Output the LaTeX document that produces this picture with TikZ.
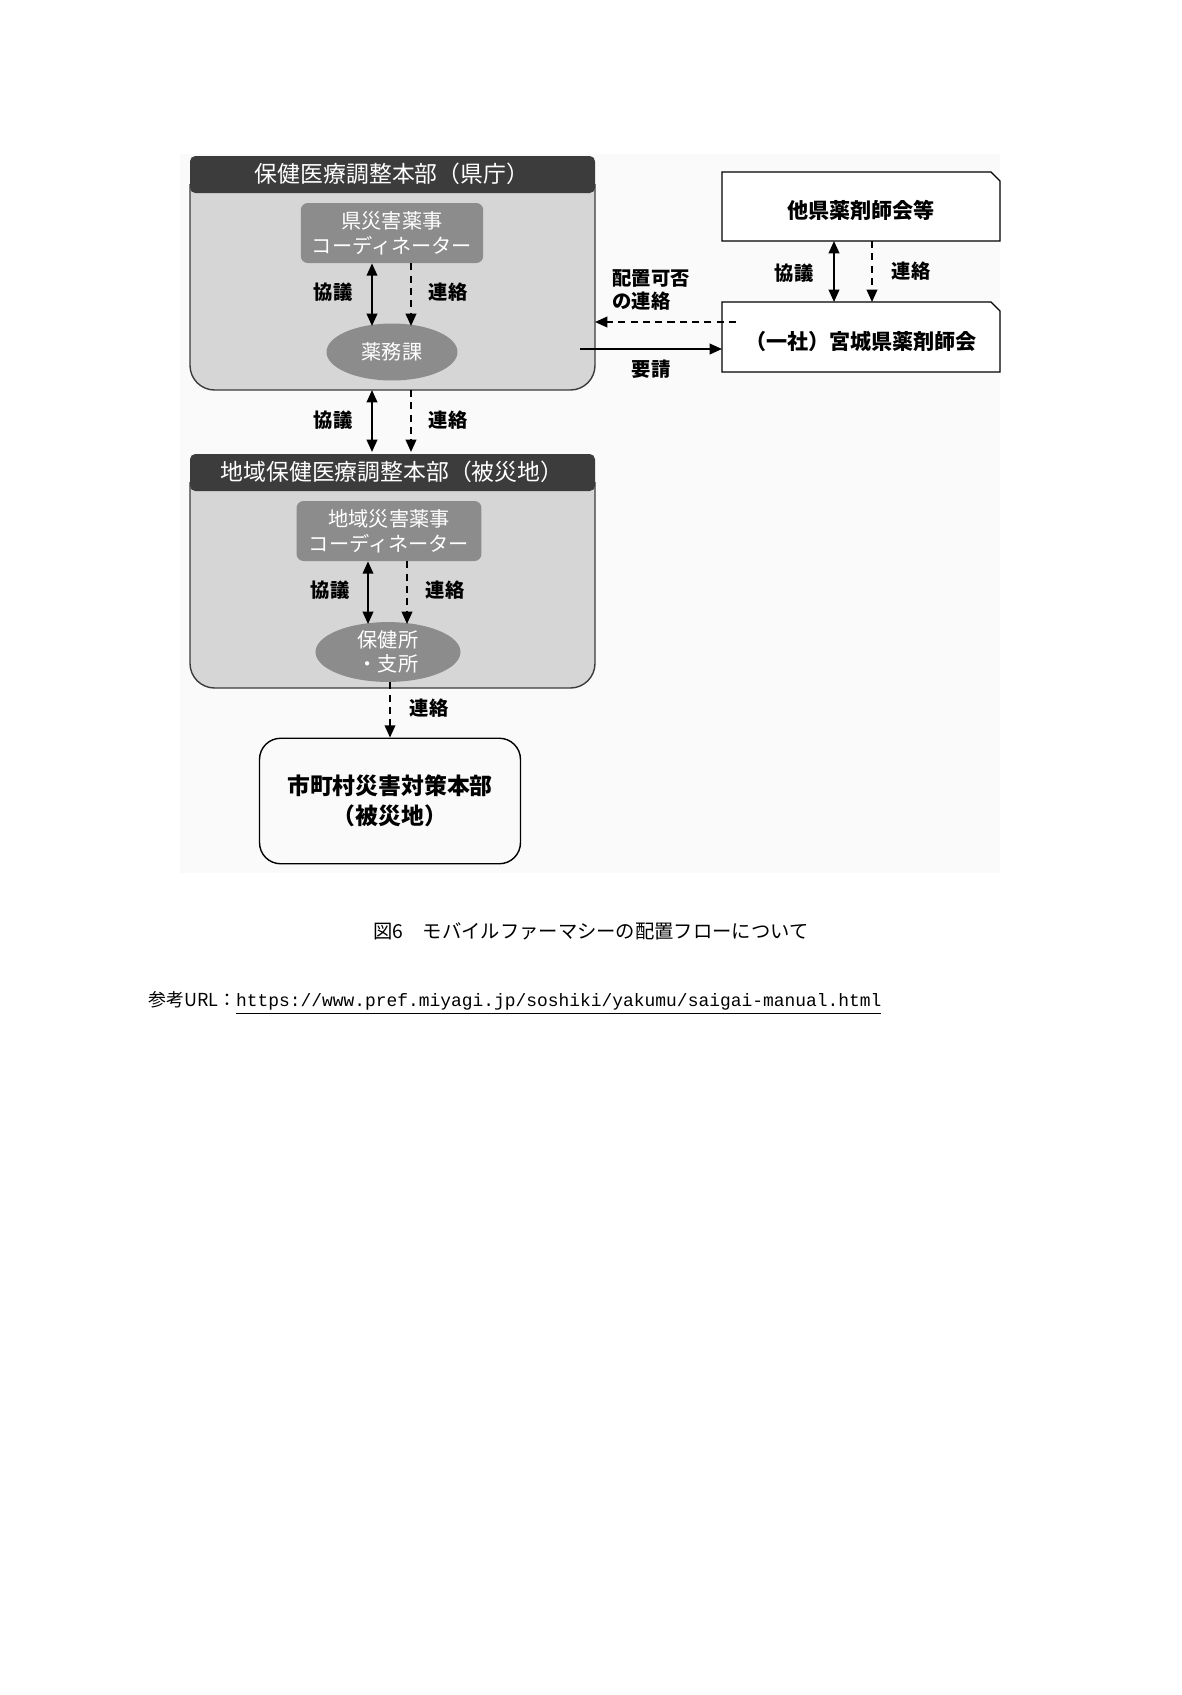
\documentclass[tikz,border=0pt]{standalone}
\usepackage{fontspec}
\usetikzlibrary{arrows.meta,shapes.geometric}
\newfontfamily\jp{Noto Sans CJK JP}
\newcommand\jpb{\jp\bfseries}
\setmonofont{Liberation Mono}
\tikzset{>={Triangle[length=7pt,width=6pt]}}
\definecolor{panelgray}{HTML}{D6D6D6}
\definecolor{headgray}{HTML}{3C3C3C}
\definecolor{boxgray}{HTML}{8C8C8C}
\tikzset{
  lbl/.style={font=\jpb\fontsize{11}{13}\selectfont},
  coordbox/.style={fill=boxgray,rounded corners=4pt,text=white,align=center,
    minimum width=3.65cm,minimum height=1.2cm,font=\jp\fontsize{11.5}{14}\selectfont},
  office/.style={ellipse,fill=boxgray,text=white,align=center,inner sep=0pt,font=\jp\fontsize{11.5}{13.5}\selectfont},
  flow/.style={->,line width=1.1pt},
  dflow/.style={->,line width=1.1pt,dash pattern=on 4pt off 3pt}
}
\begin{document}
\begin{tikzpicture}[x=0.02cm,y=-0.02cm]
      \useasboundingbox (0,0) rectangle (1181,1695);
      \fill[gray!4] (180,154) rectangle (1000,873);

      % prefecture headquarters
      \draw[fill=panelgray,draw=headgray,line width=0.8pt,rounded corners=14pt]
        (190,184) -- (190,390) -- (595,390) -- (595,184);
      \fill[headgray,rounded corners=3pt] (190,193) -- (190,156) -- (595,156) -- (595,193) -- cycle;
      \node[text=white,font=\jp\fontsize{13}{15}\selectfont] (hq) at (392,174) {保健医療調整本部（県庁）};
      \node[coordbox] (kc) at (392,233) {県災害薬事\\コーディネーター};
      \node[office,minimum width=2.62cm,minimum height=1.14cm] (yk) at (392,352) {薬務課};
      \draw[flow,<->] (kc.south -| 372,0) -- (372,326);
      \draw[dflow] (kc.south -| 411,0) -- (411,326);
      \node[lbl] (k1) at (333,292) {協議};
      \node[lbl] (r1) at (448,292) {連絡};

      % between the two headquarters
      \coordinate (t1) at (372,390);
      \coordinate (t2) at (411,390);
      \draw[flow,<->] (t1) -- (372,452);
      \draw[dflow] (t2) -- (411,452);
      \node[lbl] (k2) at (333,420) {協議};
      \node[lbl] (r2) at (448,420) {連絡};

      % regional headquarters
      \draw[fill=panelgray,draw=headgray,line width=0.8pt,rounded corners=14pt]
        (190,482) -- (190,688) -- (595,688) -- (595,482);
      \fill[headgray,rounded corners=3pt] (190,491) -- (190,454) -- (595,454) -- (595,491) -- cycle;
      \node[text=white,font=\jp\fontsize{13}{15}\selectfont] (rhq) at (392,472) {地域保健医療調整本部（被災地）};
      \node[coordbox,minimum width=3.7cm] (rc) at (389,531) {地域災害薬事\\コーディネーター};
      \node[office,minimum width=2.9cm,minimum height=1.17cm] (hc) at (388,652) {保健所\\・支所};
      \draw[flow,<->] (rc.south -| 368,0) -- (368,624);
      \draw[dflow] (rc.south -| 407,0) -- (407,624);
      \node[lbl] (k3) at (330,590) {協議};
      \node[lbl] (r3) at (445,590) {連絡};

      % municipalities
      \node[draw,line width=0.8pt,rounded corners=12pt,minimum width=5.22cm,minimum height=2.51cm,
        align=center,font=\jpb\fontsize{13}{17}\selectfont] (mu) at (390,801) {市町村災害対策本部\\（被災地）};
      \draw[dflow] (hc.south -| 390,0) -- (mu.north -| 390,0);
      \node[lbl] (r4) at (429,708) {連絡};

      % pharmaceutical associations
      \draw[line width=0.8pt,fill=white] (722,172) -- (991,172) -- (1000,181) -- (1000,241) -- (722,241) -- cycle;
      \node[font=\jpb\fontsize{12}{14}\selectfont] (ot) at (861,210) {他県薬剤師会等};
      \draw[line width=0.8pt,fill=white] (722,302) -- (991,302) -- (1000,311) -- (1000,372) -- (722,372) -- cycle;
      \node[font=\jpb\fontsize{12}{14}\selectfont] (mp) at (861,341) {（一社）宮城県薬剤師会};
      \coordinate (a1) at (834,241);
      \coordinate (a2) at (872,241);
      \draw[flow,<->] (a1) -- (834,302);
      \draw[dflow] (a2) -- (872,302);
      \node[lbl] (k4) at (794,273) {協議};
      \node[lbl] (r5) at (911,271) {連絡};

      \coordinate (ds) at (736,322);
      \coordinate (de) at (595,322);
      \draw[dflow] (ds) -- (de);
      \node[lbl,align=left] (hk) at (651,290) {配置可否\\の連絡};
      \coordinate (ss) at (580,349);
      \draw[flow] (ss) -- (722,349);
      \node[lbl] (yo) at (651,369) {要請};

      % caption and reference
      \node[font=\jp\fontsize{11}{13}\selectfont] (cap) at (591,931) {図6\quad モバイルファーマシーの配置フローについて};
      \node[anchor=west,inner sep=0,font=\fontsize{10.2}{12}\selectfont] (url) at (148,1003)
        {{\jp 参考URL：}\underline{\ttfamily https://www.pref.miyagi.jp/soshiki/yakumu/saigai-manual.html}};
    \end{tikzpicture}
\end{document}
